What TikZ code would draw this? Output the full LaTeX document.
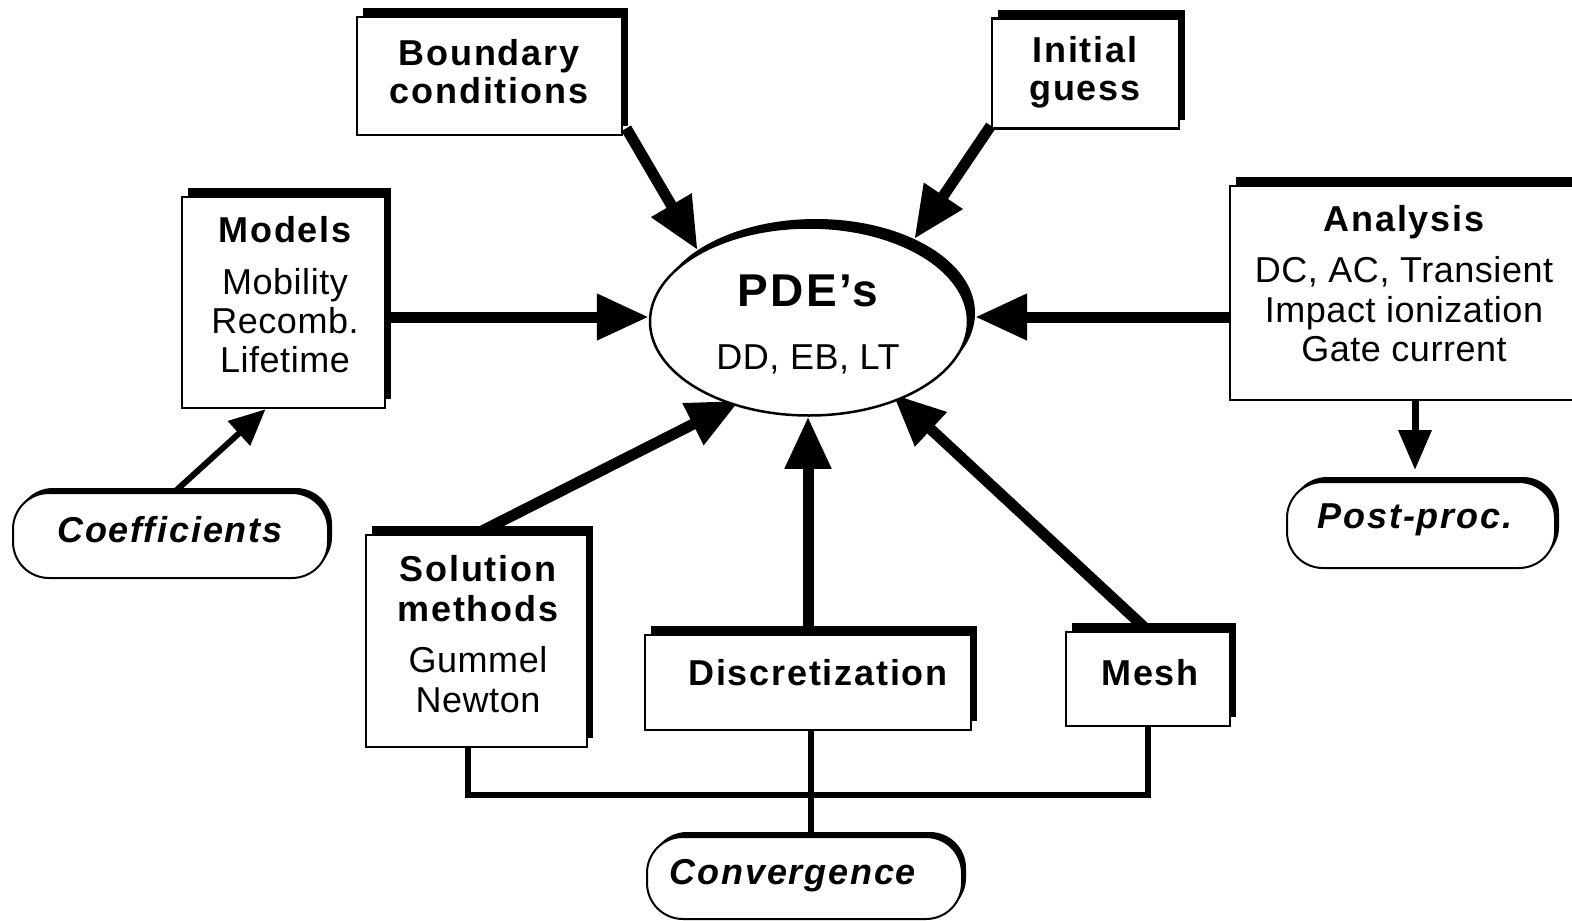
\documentclass[tikz,border=0pt]{standalone}
\usepackage{fontspec}
\setmainfont{Liberation Sans}
\newfontfamily\fRg{Liberation Sans}[LetterSpace=1.5]
\newfontfamily\fBd{Liberation Sans}[LetterSpace=5]
\usetikzlibrary{arrows.meta,shadows,shapes.geometric}
\pgfdeclarelayer{bg}
\pgfsetlayers{bg,main}
\tikzset{
  box/.style={rectangle, draw=black, line width=2.5pt, fill=white, inner sep=0pt,
    general shadow={fill=black, shadow xshift=6pt, shadow yshift=9pt}},
  rbox/.style={rectangle, draw=black, line width=2pt, fill=white, inner sep=0pt,
    rounded corners=36pt,
    general shadow={fill=black, shadow xshift=4pt, shadow yshift=5pt}},
  txt/.style={inner sep=0pt, anchor=base, font=\fRg\fontsize{36}{40}\selectfont},
  txtb/.style={inner sep=0pt, anchor=base, font=\fBd\bfseries\fontsize{36}{40}\selectfont},
  txti/.style={inner sep=0pt, anchor=base, font=\fBd\bfseries\itshape\fontsize{36}{40}\selectfont},
  big/.style={line width=11pt, -{Triangle[length=52pt,width=44pt]}},
  mid/.style={line width=7pt, -{Triangle[length=40pt,width=32pt]}},
  small/.style={line width=6pt, -{Triangle[length=36pt,width=32pt]}},
  conn/.style={line width=6pt},
}
\begin{document}
\begin{tikzpicture}[x=1pt,y=-1pt]
\useasboundingbox (0,0) rectangle (1572,921);
\clip (0,0) rectangle (1572,921);

% PDE ellipse with shadow
\node[ellipse, fill=black, minimum width=318, minimum height=188, inner sep=0pt] (pdeS) at (816,313) {};
\node[ellipse, draw=black, line width=2.5pt, fill=white, minimum width=318, minimum height=188, inner sep=0pt] (pde) at (809,321.5) {};
\node[txtb, font=\fBd\bfseries\fontsize{46}{50}\selectfont] (tpde) at (808,306) {PDE’s};
\node[txt] (tdd) at (808,369) {DD, EB, LT};

% Boxes
\node[box, minimum width=265, minimum height=118] (bc) at (489.5,76) {};
\node[txtb] (tbc1) at (489,65) {Boundary};
\node[txtb] (tbc2) at (489,103) {conditions};

\node[box, minimum width=187, minimum height=110] (ig) at (1085.5,73.5) {};
\node[txtb] (tig1) at (1085,62) {Initial};
\node[txtb] (tig2) at (1085,100) {guess};

\node[box, minimum width=203, minimum height=211] (models) at (283.5,302.5) {};
\node[txtb] (tm1) at (285,242) {Models};
\node[txt] (tm2) at (285,294) {Mobility};
\node[txt] (tm3) at (285,333) {Recomb.};
\node[txt] (tm4) at (285,372) {Lifetime};

\node[box, minimum width=370, minimum height=214] (an) at (1415,293) {};
\node[txtb] (ta1) at (1404,231) {Analysis};
\node[txt] (ta2) at (1404,282) {DC, AC, Transient};
\node[txt] (ta3) at (1404,322) {Impact ionization};
\node[txt] (ta4) at (1404,361) {Gate current};

\node[box, minimum width=221, minimum height=212] (sol) at (476.5,641) {};
\node[txtb] (ts1) at (478,581) {Solution};
\node[txtb] (ts2) at (478,621) {methods};
\node[txt] (ts3) at (478,672) {Gummel};
\node[txt] (ts4) at (478,712) {Newton};

\node[box, minimum width=326, minimum height=95] (disc) at (808,682.5) {};
\node[txtb] (tdisc) at (818,685) {Discretization};

\node[box, minimum width=164, minimum height=94] (mesh) at (1148,679) {};
\node[txtb] (tmesh) at (1150,685) {Mesh};

% Rounded boxes
\node[rbox, minimum width=315, minimum height=85] (coef) at (170.5,535.5) {};
\node[txti] (tcoef) at (170,542) {Coefficients};

\node[rbox, minimum width=268, minimum height=86] (pp) at (1421,525) {};
\node[txti] (tpp) at (1415,528) {Post-proc.};

\node[rbox, minimum width=315, minimum height=82] (conv) at (804.5,878) {};
\node[txti] (tconv) at (793,884) {Convergence};

\coordinate (yref) at (0,317);
\coordinate (bus) at (0,795);

\begin{pgfonlayer}{bg}
  \draw[big] ([xshift=3pt,yshift=8pt]bc.south east) -- (pdeS.152);
  \draw[big] ([yshift=4pt]ig.south west) -- (pdeS.37);
  \draw[big] (models.east |- yref) -- (pde.west |- yref);
  \draw[big] (an.west |- yref) -- (pdeS.east |- yref);
  \draw[big, shorten >=-9pt] (sol.north) -- (pde.227);
  \draw[big] (disc.north) -- (disc.north |- pde.south);
  \draw[big, shorten >=-9pt] (mesh.north) -- (pde.-41);
  \draw[small] ([xshift=4pt]coef.north) -- ([xshift=-18pt]models.south);
  \draw[mid, shorten >=11pt] (an.south) -- (an.south |- pp.north);
  \draw[conn] ([xshift=-9pt]sol.south) -- ([xshift=-9pt]sol.south |- bus) -| (mesh.south);
  \draw[conn] ([xshift=3pt]disc.south) -- ([xshift=3pt]disc.south |- conv.north);
\end{pgfonlayer}
\end{tikzpicture}
\end{document}
